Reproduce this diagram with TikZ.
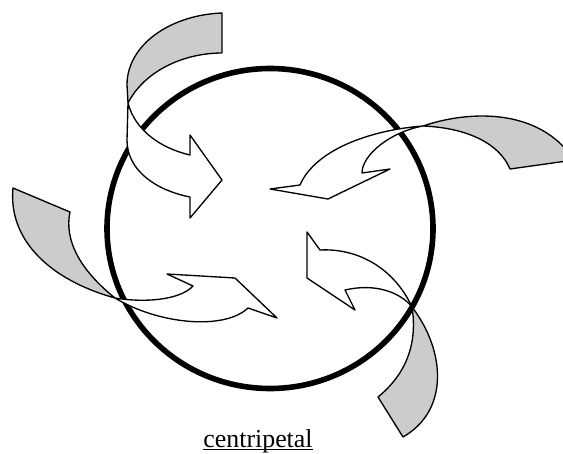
\documentclass[tikz,border=0pt]{standalone}
\usepackage{fontspec}
\setmainfont{Liberation Serif}
\usetikzlibrary{calc}
\definecolor{ribbongray} {RGB}{204, 204, 204}
\definecolor{rimdark}    {RGB}{  0,   0,   0}

\begin{document}
\begin{tikzpicture}[x=0.75pt,y=-0.75pt,
	ribbon/.style={draw=rimdark,line width=1pt,line join=round,fill=white},
	ribbonback/.style={ribbon,fill=ribbongray}]
	\useasboundingbox (0,0) rectangle (563,453);
	\coordinate (C) at (270,228.5);
	\draw[rimdark,line width=4.2pt] (C) ellipse [x radius=163, y radius=160];
	\coordinate (tw1) at (128,103);
	\coordinate (tw2) at (423,126);
	\coordinate (tw3) at (115,298);
	\coordinate (tw4) at (412,307);
	\draw[ribbonback] (222,13) .. controls (170,15) and (127,45) .. (127,85) -- (tw1)
		.. controls (145,70) and (185,53) .. (222,53) -- cycle;
	\draw[ribbon] (tw1) .. controls (135,130) and (160,148) .. (190,155) -- (190,135) -- (222,180)
		-- (190,218) -- (190,197) .. controls (155,190) and (127,170) .. (127,140) -- cycle;
	\draw[ribbonback] (tw2) .. controls (470,110) and (540,108) .. (574,160) -- (510,169)
		.. controls (500,145) and (470,128) .. (tw2);
	\draw[ribbon] (tw2) .. controls (370,130) and (315,150) .. (300,185) -- (270,189) -- (328,199)
		-- (390,169) -- (362,173) .. controls (362,155) and (390,132) .. (tw2);
	\draw[ribbonback] (13,188) .. controls (8,240) and (50,280) .. (tw3)
		.. controls (80,270) and (64,240) .. (70,212) -- cycle;
	\draw[ribbon] (tw3) .. controls (145,303) and (180,300) .. (193,286) -- (167,274) -- (235,278)
		-- (277,318) -- (248,308) .. controls (225,330) and (160,325) .. (tw3);
	\draw[ribbonback] (tw4) .. controls (445,350) and (450,410) .. (403,437) -- (378,397)
		.. controls (405,375) and (418,345) .. (tw4);
	\draw[ribbon] (tw4) .. controls (395,270) and (360,248) .. (320,250) -- (307,232) -- (307,278)
		-- (355,310) -- (345,290) .. controls (375,283) and (400,292) .. (tw4);
	\node[font=\fontsize{19.4}{23}\selectfont,anchor=base,inner sep=0pt] (caption) at (258,447) {centripetal};
	\draw[line width=0.75pt] ([yshift=-2.2pt]caption.base west) -- ([yshift=-2.2pt]caption.base east);
\end{tikzpicture}
\end{document}
